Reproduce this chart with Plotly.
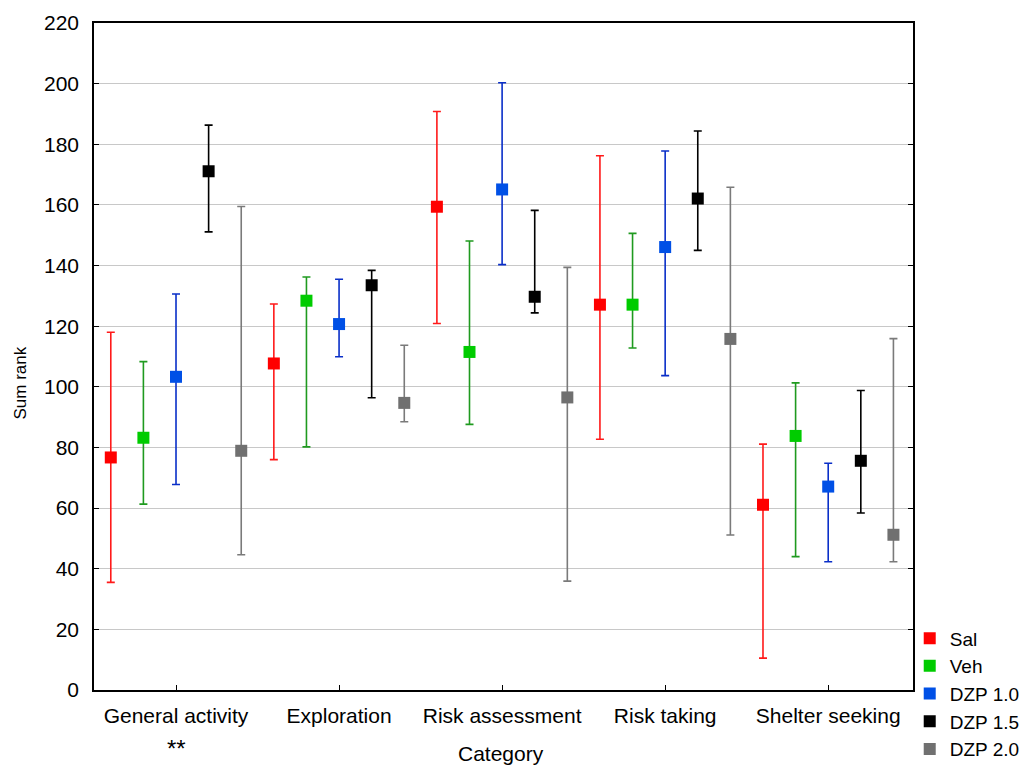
import plotly.graph_objects as go

categories = ["General activity", "Exploration", "Risk assessment", "Risk taking", "Shelter seeking"]
series_names = ["Sal", "Veh", "DZP 1.0", "DZP 1.5", "DZP 2.0"]

sal_mean = [76.7, 107.7, 159.4, 127.1, 61.1]
sal_low = [35.5, 76.0, 120.9, 82.7, 10.5]
sal_high = [118.0, 127.3, 190.8, 176.2, 81.1]

veh_mean = [83.2, 128.4, 111.5, 127.1, 83.8]
veh_low = [61.3, 80.2, 87.6, 112.8, 44.0]
veh_high = [108.3, 136.2, 148.1, 150.6, 101.3]

dzp10_mean = [103.3, 120.7, 165.1, 146.1, 67.1]
dzp10_low = [67.8, 109.9, 140.3, 103.7, 42.3]
dzp10_high = [130.6, 135.5, 200.3, 177.8, 74.8]

dzp15_mean = [171.1, 133.5, 129.7, 162.1, 75.6]
dzp15_low = [151.1, 96.4, 124.4, 145.0, 58.4]
dzp15_high = [186.3, 138.4, 158.2, 184.4, 98.8]

dzp20_mean = [78.9, 94.7, 96.5, 115.8, 51.2]
dzp20_low = [44.6, 88.5, 35.9, 51.1, 42.3]
dzp20_high = [159.5, 113.7, 139.4, 165.8, 115.9]

y_ticks = [0, 20, 40, 60, 80, 100, 120, 140, 160, 180, 200, 220]

means = [sal_mean, veh_mean, dzp10_mean, dzp15_mean, dzp20_mean]
lows = [sal_low, veh_low, dzp10_low, dzp15_low, dzp20_low]
highs = [sal_high, veh_high, dzp10_high, dzp15_high, dzp20_high]
marker_colors = ["#ff0000", "#00cc00", "#0050e6", "#000000", "#707070"]
bar_colors = ["#ff1a1a", "#1f9a1f", "#0a2fc8", "#000000", "#7a7a7a"]
offsets = [-0.4, -0.2, 0.0, 0.2, 0.4]

font_family = "Liberation Sans, Arial, sans-serif"

fig = go.Figure()
for name, m, lo, hi, mc, bc, off in zip(series_names, means, lows, highs, marker_colors, bar_colors, offsets):
    xs = [i + off for i in range(len(categories))]
    fig.add_trace(go.Scatter(
        x=xs, y=m, mode="markers", name=name,
        marker=dict(symbol="square", size=12, color=mc),
        error_y=dict(type="data", symmetric=False,
                     array=[h - v for h, v in zip(hi, m)],
                     arrayminus=[v - l for v, l in zip(m, lo)],
                     color=bc, thickness=1.6, width=4),
    ))

fig.update_layout(
    width=1028, height=767,
    margin=dict(l=94, r=115, t=23, b=77, autoexpand=False),
    paper_bgcolor="white", plot_bgcolor="white",
    font=dict(family=font_family, color="black", size=21),
    showlegend=True,
    legend=dict(x=0.996, xanchor="left", y=0.106, yanchor="top",
                font=dict(size=19, family=font_family),
                bgcolor="rgba(0,0,0,0)", itemwidth=30, tracegroupgap=0,
                borderwidth=0),
    xaxis=dict(range=[-0.503, 4.52], tickmode="array",
               tickvals=list(range(len(categories))), ticktext=categories,
               showgrid=False, zeroline=False, automargin=False,
               showline=True, linecolor="black", linewidth=1.5, mirror=True,
               ticks="inside", ticklen=5, tickcolor="black",
               ticklabelstandoff=6,
               tickfont=dict(size=21, family=font_family)),
    yaxis=dict(range=[0, 220], tickmode="array", tickvals=y_ticks,
               showgrid=True, gridcolor="#c8c8c8", gridwidth=1.3,
               zeroline=False, automargin=False,
               showline=True, linecolor="black", linewidth=1.5, mirror="ticks",
               ticks="inside", ticklen=5, tickcolor="black",
               ticklabelstandoff=9,
               tickfont=dict(size=21, family=font_family)),
    annotations=[
        dict(text="Sum rank", xref="paper", yref="paper", x=-0.090, y=0.46,
             textangle=-90, showarrow=False, font=dict(size=17, family=font_family),
             xanchor="center", yanchor="middle"),
        dict(text="Category", xref="paper", yref="paper", x=0.497, y=-0.095,
             showarrow=False, font=dict(size=21, family=font_family),
             xanchor="center", yanchor="middle"),
        dict(text="**", xref="x", yref="paper", x=0, y=-0.088,
             showarrow=False, font=dict(size=24, family=font_family),
             xanchor="center", yanchor="middle"),
    ],
)

fig.write_html("out.html", config={"displayModeBar": False},
               post_script="document.body.style.margin='0';document.body.style.overflow='hidden';")
